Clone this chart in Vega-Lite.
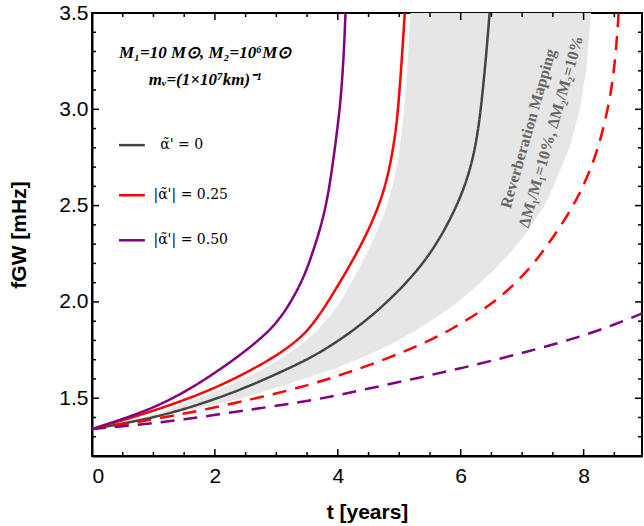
{
  "$schema": "https://vega.github.io/schema/vega-lite/v6.json",
  "width": 550,
  "height": 443,
  "autosize": "none",
  "padding": {"left": 92, "top": 13, "right": 2, "bottom": 70},
  "background": "white",
  "config": {"view": {"stroke": "black", "strokeWidth": 2}},
  "datasets": {
    "band": [
      {"f": 1.34, "tl": 0, "tr": 0},
      {"f": 1.37, "tl": 0.47, "tr": 0.6},
      {"f": 1.40, "tl": 0.84, "tr": 1.05},
      {"f": 1.45, "tl": 1.32, "tr": 1.75},
      {"f": 1.50, "tl": 1.73, "tr": 2.45},
      {"f": 1.55, "tl": 2.11, "tr": 2.95},
      {"f": 1.60, "tl": 2.46, "tr": 3.45},
      {"f": 1.66, "tl": 2.83, "tr": 4.0},
      {"f": 1.72, "tl": 3.15, "tr": 4.46},
      {"f": 1.78, "tl": 3.41, "tr": 4.87},
      {"f": 1.85, "tl": 3.66, "tr": 5.26},
      {"f": 1.93, "tl": 3.88, "tr": 5.65},
      {"f": 2.0, "tl": 4.04, "tr": 5.96},
      {"f": 2.08, "tl": 4.18, "tr": 6.25},
      {"f": 2.165, "tl": 4.33, "tr": 6.54},
      {"f": 2.25, "tl": 4.47, "tr": 6.79},
      {"f": 2.338, "tl": 4.6, "tr": 7.02},
      {"f": 2.42, "tl": 4.71, "tr": 7.2},
      {"f": 2.511, "tl": 4.81, "tr": 7.38},
      {"f": 2.6, "tl": 4.89, "tr": 7.51},
      {"f": 2.7, "tl": 4.96, "tr": 7.64},
      {"f": 2.8, "tl": 5.01, "tr": 7.77},
      {"f": 3.0, "tl": 5.08, "tr": 7.94},
      {"f": 3.2, "tl": 5.13, "tr": 8.04},
      {"f": 3.5, "tl": 5.18, "tr": 8.12}
    ],
    "curves": [
      {"s": "k", "c": "k", "d": "solid", "t": 0, "f": 1.34},
      {"s": "k", "c": "k", "d": "solid", "t": 0.5, "f": 1.368},
      {"s": "k", "c": "k", "d": "solid", "t": 1.0, "f": 1.40},
      {"s": "k", "c": "k", "d": "solid", "t": 1.5, "f": 1.443},
      {"s": "k", "c": "k", "d": "solid", "t": 2.0, "f": 1.495},
      {"s": "k", "c": "k", "d": "solid", "t": 2.5, "f": 1.555},
      {"s": "k", "c": "k", "d": "solid", "t": 3.0, "f": 1.625},
      {"s": "k", "c": "k", "d": "solid", "t": 3.5, "f": 1.70},
      {"s": "k", "c": "k", "d": "solid", "t": 3.88, "f": 1.77},
      {"s": "k", "c": "k", "d": "solid", "t": 4.42, "f": 1.889},
      {"s": "k", "c": "k", "d": "solid", "t": 5.02, "f": 2.062},
      {"s": "k", "c": "k", "d": "solid", "t": 5.48, "f": 2.234},
      {"s": "k", "c": "k", "d": "solid", "t": 5.80, "f": 2.408},
      {"s": "k", "c": "k", "d": "solid", "t": 6.05, "f": 2.58},
      {"s": "k", "c": "k", "d": "solid", "t": 6.21, "f": 2.753},
      {"s": "k", "c": "k", "d": "solid", "t": 6.30, "f": 2.926},
      {"s": "k", "c": "k", "d": "solid", "t": 6.36, "f": 3.099},
      {"s": "k", "c": "k", "d": "solid", "t": 6.42, "f": 3.3},
      {"s": "k", "c": "k", "d": "solid", "t": 6.47, "f": 3.5},
      {"s": "r", "c": "r", "d": "solid", "t": 0, "f": 1.34},
      {"s": "r", "c": "r", "d": "solid", "t": 0.5, "f": 1.385},
      {"s": "r", "c": "r", "d": "solid", "t": 1.0, "f": 1.435},
      {"s": "r", "c": "r", "d": "solid", "t": 1.5, "f": 1.49},
      {"s": "r", "c": "r", "d": "solid", "t": 2.0, "f": 1.553},
      {"s": "r", "c": "r", "d": "solid", "t": 2.5, "f": 1.63},
      {"s": "r", "c": "r", "d": "solid", "t": 3.0, "f": 1.72},
      {"s": "r", "c": "r", "d": "solid", "t": 3.3, "f": 1.79},
      {"s": "r", "c": "r", "d": "solid", "t": 3.5, "f": 1.848},
      {"s": "r", "c": "r", "d": "solid", "t": 3.71, "f": 1.935},
      {"s": "r", "c": "r", "d": "solid", "t": 3.96, "f": 2.062},
      {"s": "r", "c": "r", "d": "solid", "t": 4.28, "f": 2.234},
      {"s": "r", "c": "r", "d": "solid", "t": 4.555, "f": 2.408},
      {"s": "r", "c": "r", "d": "solid", "t": 4.76, "f": 2.58},
      {"s": "r", "c": "r", "d": "solid", "t": 4.88, "f": 2.753},
      {"s": "r", "c": "r", "d": "solid", "t": 4.96, "f": 2.926},
      {"s": "r", "c": "r", "d": "solid", "t": 5.005, "f": 3.099},
      {"s": "r", "c": "r", "d": "solid", "t": 5.05, "f": 3.3},
      {"s": "r", "c": "r", "d": "solid", "t": 5.09, "f": 3.5},
      {"s": "p", "c": "p", "d": "solid", "t": 0, "f": 1.34},
      {"s": "p", "c": "p", "d": "solid", "t": 0.5, "f": 1.392},
      {"s": "p", "c": "p", "d": "solid", "t": 1.0, "f": 1.45},
      {"s": "p", "c": "p", "d": "solid", "t": 1.5, "f": 1.53},
      {"s": "p", "c": "p", "d": "solid", "t": 2.0, "f": 1.63},
      {"s": "p", "c": "p", "d": "solid", "t": 2.5, "f": 1.745},
      {"s": "p", "c": "p", "d": "solid", "t": 2.8, "f": 1.826},
      {"s": "p", "c": "p", "d": "solid", "t": 3.0, "f": 1.89},
      {"s": "p", "c": "p", "d": "solid", "t": 3.2, "f": 1.98},
      {"s": "p", "c": "p", "d": "solid", "t": 3.4, "f": 2.095},
      {"s": "p", "c": "p", "d": "solid", "t": 3.55, "f": 2.215},
      {"s": "p", "c": "p", "d": "solid", "t": 3.71, "f": 2.375},
      {"s": "p", "c": "p", "d": "solid", "t": 3.8, "f": 2.49},
      {"s": "p", "c": "p", "d": "solid", "t": 3.87, "f": 2.61},
      {"s": "p", "c": "p", "d": "solid", "t": 3.95, "f": 2.79},
      {"s": "p", "c": "p", "d": "solid", "t": 4.02, "f": 2.97},
      {"s": "p", "c": "p", "d": "solid", "t": 4.06, "f": 3.1},
      {"s": "p", "c": "p", "d": "solid", "t": 4.1, "f": 3.3},
      {"s": "p", "c": "p", "d": "solid", "t": 4.125, "f": 3.5},
      {"s": "rd", "c": "r", "d": "dashed", "t": 0, "f": 1.34},
      {"s": "rd", "c": "r", "d": "dashed", "t": 0.5, "f": 1.365},
      {"s": "rd", "c": "r", "d": "dashed", "t": 1.0, "f": 1.39},
      {"s": "rd", "c": "r", "d": "dashed", "t": 1.5, "f": 1.42},
      {"s": "rd", "c": "r", "d": "dashed", "t": 2.0, "f": 1.452},
      {"s": "rd", "c": "r", "d": "dashed", "t": 2.79, "f": 1.508},
      {"s": "rd", "c": "r", "d": "dashed", "t": 3.5, "f": 1.565},
      {"s": "rd", "c": "r", "d": "dashed", "t": 4.09, "f": 1.625},
      {"s": "rd", "c": "r", "d": "dashed", "t": 4.77, "f": 1.70},
      {"s": "rd", "c": "r", "d": "dashed", "t": 5.5, "f": 1.80},
      {"s": "rd", "c": "r", "d": "dashed", "t": 5.85, "f": 1.858},
      {"s": "rd", "c": "r", "d": "dashed", "t": 6.27, "f": 1.94},
      {"s": "rd", "c": "r", "d": "dashed", "t": 6.54, "f": 2.0},
      {"s": "rd", "c": "r", "d": "dashed", "t": 6.82, "f": 2.075},
      {"s": "rd", "c": "r", "d": "dashed", "t": 7.08, "f": 2.16},
      {"s": "rd", "c": "r", "d": "dashed", "t": 7.3, "f": 2.245},
      {"s": "rd", "c": "r", "d": "dashed", "t": 7.5, "f": 2.335},
      {"s": "rd", "c": "r", "d": "dashed", "t": 7.7, "f": 2.43},
      {"s": "rd", "c": "r", "d": "dashed", "t": 7.9, "f": 2.54},
      {"s": "rd", "c": "r", "d": "dashed", "t": 8.05, "f": 2.64},
      {"s": "rd", "c": "r", "d": "dashed", "t": 8.2, "f": 2.765},
      {"s": "rd", "c": "r", "d": "dashed", "t": 8.3, "f": 2.875},
      {"s": "rd", "c": "r", "d": "dashed", "t": 8.4, "f": 3.01},
      {"s": "rd", "c": "r", "d": "dashed", "t": 8.47, "f": 3.14},
      {"s": "rd", "c": "r", "d": "dashed", "t": 8.53, "f": 3.31},
      {"s": "rd", "c": "r", "d": "dashed", "t": 8.57, "f": 3.5},
      {"s": "pd", "c": "p", "d": "dashed", "t": 0, "f": 1.34},
      {"s": "pd", "c": "p", "d": "dashed", "t": 0.5, "f": 1.355},
      {"s": "pd", "c": "p", "d": "dashed", "t": 1.0, "f": 1.37},
      {"s": "pd", "c": "p", "d": "dashed", "t": 1.5, "f": 1.39},
      {"s": "pd", "c": "p", "d": "dashed", "t": 2.0, "f": 1.413},
      {"s": "pd", "c": "p", "d": "dashed", "t": 2.9, "f": 1.456},
      {"s": "pd", "c": "p", "d": "dashed", "t": 3.71, "f": 1.495},
      {"s": "pd", "c": "p", "d": "dashed", "t": 4.5, "f": 1.55},
      {"s": "pd", "c": "p", "d": "dashed", "t": 5.3, "f": 1.605},
      {"s": "pd", "c": "p", "d": "dashed", "t": 6.0, "f": 1.655},
      {"s": "pd", "c": "p", "d": "dashed", "t": 6.7, "f": 1.71},
      {"s": "pd", "c": "p", "d": "dashed", "t": 7.3, "f": 1.76},
      {"s": "pd", "c": "p", "d": "dashed", "t": 7.95, "f": 1.82},
      {"s": "pd", "c": "p", "d": "dashed", "t": 8.49, "f": 1.88},
      {"s": "pd", "c": "p", "d": "dashed", "t": 8.95, "f": 1.94}
    ],
    "xticks": [
      {"t": 0.5, "f": 1.2, "f2": 1.221}, {"t": 1, "f": 1.2, "f2": 1.221}, {"t": 1.5, "f": 1.2, "f2": 1.221},
      {"t": 2, "f": 1.2, "f2": 1.236}, {"t": 2.5, "f": 1.2, "f2": 1.221}, {"t": 3, "f": 1.2, "f2": 1.221}, {"t": 3.5, "f": 1.2, "f2": 1.221},
      {"t": 4, "f": 1.2, "f2": 1.236}, {"t": 4.5, "f": 1.2, "f2": 1.221}, {"t": 5, "f": 1.2, "f2": 1.221}, {"t": 5.5, "f": 1.2, "f2": 1.221},
      {"t": 6, "f": 1.2, "f2": 1.236}, {"t": 6.5, "f": 1.2, "f2": 1.221}, {"t": 7, "f": 1.2, "f2": 1.221}, {"t": 7.5, "f": 1.2, "f2": 1.221},
      {"t": 8, "f": 1.2, "f2": 1.236}, {"t": 8.5, "f": 1.2, "f2": 1.221},
      {"t": 0.5, "f": 3.5, "f2": 3.479}, {"t": 1, "f": 3.5, "f2": 3.479}, {"t": 1.5, "f": 3.5, "f2": 3.479},
      {"t": 2, "f": 3.5, "f2": 3.464}, {"t": 2.5, "f": 3.5, "f2": 3.479}, {"t": 3, "f": 3.5, "f2": 3.479}, {"t": 3.5, "f": 3.5, "f2": 3.479},
      {"t": 4, "f": 3.5, "f2": 3.464}, {"t": 4.5, "f": 3.5, "f2": 3.479}, {"t": 5, "f": 3.5, "f2": 3.479}, {"t": 5.5, "f": 3.5, "f2": 3.479},
      {"t": 6, "f": 3.5, "f2": 3.464}, {"t": 6.5, "f": 3.5, "f2": 3.479}, {"t": 7, "f": 3.5, "f2": 3.479}, {"t": 7.5, "f": 3.5, "f2": 3.479},
      {"t": 8, "f": 3.5, "f2": 3.464}, {"t": 8.5, "f": 3.5, "f2": 3.479}
    ],
    "yticks": [
      {"f": 1.3, "t": 0, "t2": 0.065}, {"f": 1.4, "t": 0, "t2": 0.065}, {"f": 1.5, "t": 0, "t2": 0.114}, {"f": 1.6, "t": 0, "t2": 0.065},
      {"f": 1.7, "t": 0, "t2": 0.065}, {"f": 1.8, "t": 0, "t2": 0.065}, {"f": 1.9, "t": 0, "t2": 0.065}, {"f": 2.0, "t": 0, "t2": 0.114},
      {"f": 2.1, "t": 0, "t2": 0.065}, {"f": 2.2, "t": 0, "t2": 0.065}, {"f": 2.3, "t": 0, "t2": 0.065}, {"f": 2.4, "t": 0, "t2": 0.065},
      {"f": 2.5, "t": 0, "t2": 0.114}, {"f": 2.6, "t": 0, "t2": 0.065}, {"f": 2.7, "t": 0, "t2": 0.065}, {"f": 2.8, "t": 0, "t2": 0.065},
      {"f": 2.9, "t": 0, "t2": 0.065}, {"f": 3.0, "t": 0, "t2": 0.114}, {"f": 3.1, "t": 0, "t2": 0.065}, {"f": 3.2, "t": 0, "t2": 0.065},
      {"f": 3.3, "t": 0, "t2": 0.065}, {"f": 3.4, "t": 0, "t2": 0.065},
      {"f": 1.3, "t": 8.95, "t2": 8.885}, {"f": 1.4, "t": 8.95, "t2": 8.885}, {"f": 1.5, "t": 8.95, "t2": 8.836}, {"f": 1.6, "t": 8.95, "t2": 8.885},
      {"f": 1.7, "t": 8.95, "t2": 8.885}, {"f": 1.8, "t": 8.95, "t2": 8.885}, {"f": 1.9, "t": 8.95, "t2": 8.885}, {"f": 2.0, "t": 8.95, "t2": 8.836},
      {"f": 2.1, "t": 8.95, "t2": 8.885}, {"f": 2.2, "t": 8.95, "t2": 8.885}, {"f": 2.3, "t": 8.95, "t2": 8.885}, {"f": 2.4, "t": 8.95, "t2": 8.885},
      {"f": 2.5, "t": 8.95, "t2": 8.836}, {"f": 2.6, "t": 8.95, "t2": 8.885}, {"f": 2.7, "t": 8.95, "t2": 8.885}, {"f": 2.8, "t": 8.95, "t2": 8.885},
      {"f": 2.9, "t": 8.95, "t2": 8.885}, {"f": 3.0, "t": 8.95, "t2": 8.836}, {"f": 3.1, "t": 8.95, "t2": 8.885}, {"f": 3.2, "t": 8.95, "t2": 8.885},
      {"f": 3.3, "t": 8.95, "t2": 8.885}, {"f": 3.4, "t": 8.95, "t2": 8.885}
    ],
    "legend": [
      {"c": "k", "t1": 0.44, "t2": 0.86, "t": 1.11, "f": 2.814, "label": "α̃' = 0"},
      {"c": "r", "t1": 0.44, "t2": 0.86, "t": 1.0, "f": 2.554, "label": "|α̃'| = 0.25"},
      {"c": "p", "t1": 0.44, "t2": 0.86, "t": 1.0, "f": 2.32, "label": "|α̃'| = 0.50"}
    ],
    "notes": [
      {"t": 1.84, "f": 3.291, "label": "M₁=10 M⊙, M₂=10⁶M⊙"},
      {"t": 1.84, "f": 3.151, "label": "mᵥ=(1×10⁷km)⁻¹"}
    ],
    "rm": [
      {"t": 7.10, "f": 2.90, "label": "Reverberation Mapping"},
      {"t": 7.47, "f": 2.883, "label": "ΔM₁/M₁=10%, ΔM₂/M₂=10%"}
    ]
  },
  "layer": [
    {
      "data": {"name": "band"},
      "mark": {"type": "area", "orient": "horizontal", "color": "#e6e6e6", "clip": true},
      "encoding": {
        "y": {
          "field": "f", "type": "quantitative",
          "scale": {"domain": [1.2, 3.5], "nice": false, "zero": false},
          "axis": {
            "orient": "left",
            "values": [1.5, 2.0, 2.5, 3.0, 3.5],
            "format": ".1f",
            "ticks": false,
            "domainColor": "black", "domainWidth": 2,
            "labelFont": "Liberation Sans", "labelFontSize": 21, "labelColor": "black", "labelPadding": 4,
            "grid": false,
            "title": "fGW [mHz]",
            "titleFont": "Liberation Sans", "titleFontSize": 21, "titleFontWeight": "bold", "titleColor": "black", "titlePadding": 29
          }
        },
        "x": {
          "field": "tl", "type": "quantitative",
          "scale": {"domain": [0, 8.95], "nice": false, "zero": false},
          "axis": {
            "orient": "bottom",
            "values": [0, 2, 4, 6, 8],
            "format": "d",
            "ticks": false,
            "domainColor": "black", "domainWidth": 2,
            "labelFont": "Liberation Sans", "labelFontSize": 21, "labelColor": "black", "labelPadding": 9,
            "grid": false,
            "title": "t [years]",
            "titleFont": "Liberation Sans", "titleFontSize": 21, "titleFontWeight": "bold", "titleColor": "black", "titlePadding": 15
          }
        },
        "x2": {"field": "tr"}
      }
    },
    {
      "data": {"name": "curves"},
      "mark": {"type": "line", "strokeWidth": 2.5, "interpolate": "basis", "clip": true},
      "encoding": {
        "x": {"field": "t", "type": "quantitative"},
        "y": {"field": "f", "type": "quantitative"},
        "detail": {"field": "s"},
        "color": {"field": "c", "type": "nominal", "scale": {"domain": ["k", "r", "p"], "range": ["#444444", "#ff0000", "#800080"]}, "legend": null},
        "strokeDash": {"field": "d", "type": "nominal", "scale": {"domain": ["solid", "dashed"], "range": [[1, 0], [14, 9]]}, "legend": null},
        "order": {"field": "t", "type": "quantitative"}
      }
    },
    {
      "data": {"name": "legend"},
      "mark": {"type": "rule", "strokeWidth": 2.5},
      "encoding": {
        "x": {"field": "t1", "type": "quantitative"},
        "x2": {"field": "t2"},
        "y": {"field": "f", "type": "quantitative"},
        "color": {"field": "c", "type": "nominal", "legend": null}
      }
    },
    {
      "data": {"name": "legend"},
      "mark": {"type": "text", "align": "left", "baseline": "middle", "font": "DejaVu Serif", "fontSize": 14, "color": "black"},
      "encoding": {
        "x": {"field": "t", "type": "quantitative"},
        "y": {"field": "f", "type": "quantitative"},
        "text": {"field": "label"}
      }
    },
    {
      "data": {"name": "notes"},
      "mark": {"type": "text", "align": "center", "baseline": "middle", "font": "Liberation Serif", "fontSize": 17, "fontWeight": "bold", "fontStyle": "italic", "color": "black"},
      "encoding": {
        "x": {"field": "t", "type": "quantitative"},
        "y": {"field": "f", "type": "quantitative"},
        "text": {"field": "label"}
      }
    },
    {
      "data": {"name": "rm"},
      "mark": {"type": "text", "align": "center", "baseline": "middle", "font": "Liberation Serif", "fontSize": 16, "fontWeight": "bold", "angle": 286, "color": "#666666"},
      "encoding": {
        "x": {"field": "t", "type": "quantitative"},
        "y": {"field": "f", "type": "quantitative"},
        "text": {"field": "label"}
      }
    },
    {
      "data": {"name": "xticks"},
      "mark": {"type": "rule", "strokeWidth": 1.5, "color": "#000000", "opacity": 1},
      "encoding": {
        "x": {"field": "t", "type": "quantitative"},
        "y": {"field": "f", "type": "quantitative"},
        "y2": {"field": "f2"}
      }
    },
    {
      "data": {"name": "yticks"},
      "mark": {"type": "rule", "strokeWidth": 1.5, "color": "#000000", "opacity": 1},
      "encoding": {
        "x": {"field": "t", "type": "quantitative"},
        "x2": {"field": "t2"},
        "y": {"field": "f", "type": "quantitative"}
      }
    }
  ]
}
